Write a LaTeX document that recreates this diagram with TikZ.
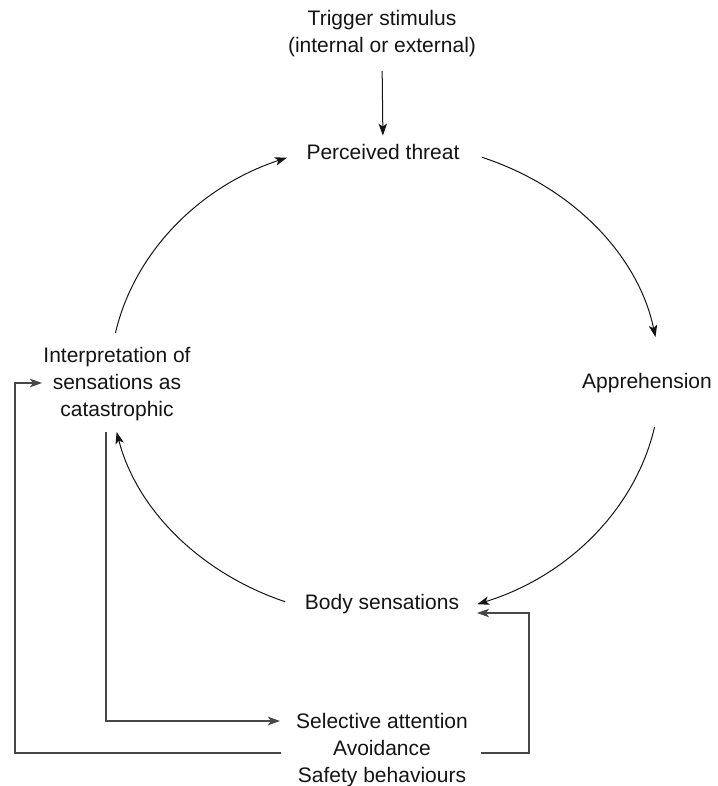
\documentclass[tikz,border=0pt]{standalone}
\usepackage{fontspec}
\setmainfont{Liberation Sans}
\usetikzlibrary{arrows.meta}
\begin{document}
\begin{tikzpicture}[x=1pt,y=1pt,
  lbl/.style={font=\fontsize{21pt}{27pt}\selectfont, text=black!92, inner sep=0pt, align=center},
  arr/.style={draw=black!92, line width=1pt, -{Stealth[length=12pt,width=8.5pt,inset=3pt]}},
  brk/.style={draw=black!72, line width=1.2pt, -{Stealth[length=12pt,width=8.5pt,inset=3pt]}}]
\useasboundingbox (0,0) rectangle (717,786);
% nodes
\node[lbl] (trig) at (382,752.7) {Trigger stimulus\\(internal or external)};
\node[lbl, anchor=base] (threat) at (383,626) {Perceived threat};
\node[lbl, anchor=base] (appr) at (647,397) {Apprehension};
\node[lbl, anchor=base] (body) at (382,176) {Body sensations};
\node[lbl] (interp) at (117,402.2) {Interpretation of\\sensations as\\catastrophic};
\node[lbl] (sel) at (382,36.2) {Selective attention\\Avoidance\\Safety behaviours};
% trigger to threat
\draw[arr, shorten <=14pt, shorten >=9pt] (trig.south) -- (threat.north);
% the cycle
\coordinate (ctr) at (385,406);
\draw[arr] (ctr) ++(168.6:275pt and 238pt) arc[start angle=168.6, end angle=110.9, x radius=275pt, y radius=238pt];
\draw[arr] (ctr) ++(69.3:275pt and 238pt) arc[start angle=69.3, end angle=10.4, x radius=275pt, y radius=238pt];
\draw[arr] (ctr) ++(-11.4:275pt and 238pt) arc[start angle=-11.4, end angle=-70.4, x radius=275pt, y radius=238pt];
\draw[arr] (ctr) ++(-111.3:275pt and 238pt) arc[start angle=-111.3, end angle=-167.4, x radius=275pt, y radius=238pt];
% feedback brackets
\coordinate (inA) at (106,354);
\coordinate (inB) at (280,65);
\draw[brk] (inA) |- (inB);
\coordinate (outA) at (281,33);
\coordinate (outB) at (15,403);
\coordinate (outC) at (42,403);
\draw[brk] (outA) -| (outB) -- (outC);
\coordinate (rA) at (481,33);
\coordinate (rB) at (529,173);
\coordinate (rC) at (477,173);
\draw[brk] (rA) -| (rB) -- (rC);
\end{tikzpicture}
\end{document}
